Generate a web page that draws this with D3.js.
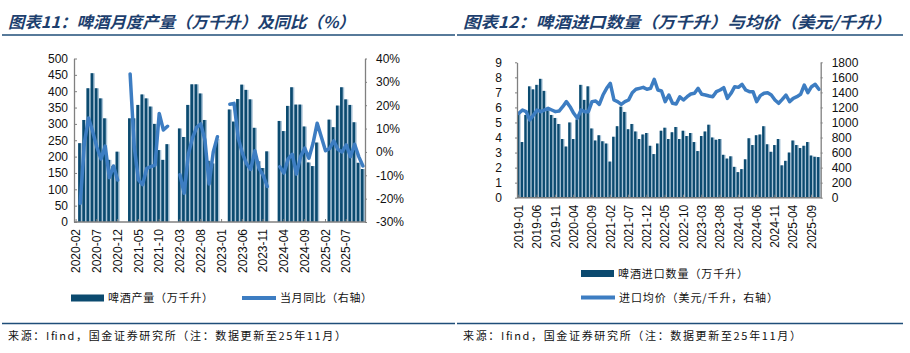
<!DOCTYPE html>
<html>
<head>
<meta charset="utf-8">
<script src="https://cdn.jsdelivr.net/npm/d3@7"></script>
<style>
body { margin: 0; background: #fff; }
</style>
</head>
<body>
<svg width="910" height="353"></svg>
<script>
// ---- data ----
function monthList(y0, m0, y1, m1) {
	var out = [];
	for (var y = y0, m = m0; y < y1 || (y == y1 && m <= m1); ) {
		out.push(y + "-" + (m < 10 ? "0" + m : m));
		m++;
		if (m > 12) { m = 1; y++; }
	}
	return out;
}

// 图表11: 2020-02 .. 2025-11
var prodMonths = monthList(2020, 2, 2025, 11);
var prodTicks = ["2020-02", "2020-07", "2020-12", "2021-05", "2021-10", "2022-03", "2022-08",
	"2023-01", "2023-06", "2023-11", "2024-04", "2024-09", "2025-02", "2025-07"];
var prodOutput = [
	null, 241, 312, 409, 455, 409, 378, 317, 190, 171, 215,
	null, null, 317, 317, 358, 390, 378, 353, 300, 220, 190, 238,
	null, null, 286, 260, 358, 421, 421, 393, 312, 187, 179, 254,
	null, null, 344, 307, 376, 420, 404, 375, 288, 186, 165, 216,
	null, null, 309, 278, 355, 412, 359, 359, 292, 182, 171, 243,
	null, null, 313, 290, 356, 412, 375, 358, 305, 181, 162
];
var prodYoy = [
	null, -22, 4, 14.5, 8.7, 2, -3, 2.5, -11, -6, -12,
	null, null, 33.4, 2, -12, -14, -7, -6.3, -5.6, 16.5, 9.4, 11,
	null, null, -9.8, -17.7, -1, 6, 10.5, 12, 5, -13.7, 0, 6.5,
	null, null, 20.4, 20.8, 6, -0.5, -5, -7.5, 0.5, -7, -10, -14.8,
	null, null, -6.3, -9, -3, -1, -9.5, -2, 1.6, -2.7, 3.7, 12.3,
	null, 0.5, 1.5, 4.7, 1, 0, 3, -2, 3.3, -2, -6
];
// months the yoy line is drawn straight across instead of breaking
var yoyBridged = ["2025-01"];

// 图表12: 2019-01 .. 2025-11
var impMonths = monthList(2019, 1, 2025, 11);
var impTicks = ["2019-01", "2019-06", "2019-11", "2020-04", "2020-09", "2021-02", "2021-07",
	"2021-12", "2022-05", "2022-10", "2023-03", "2023-08", "2024-01", "2024-06", "2024-11",
	"2025-04", "2025-09"];
var impVolume = [
	5.6, 3.7, 5.5, 7.4, 7.2, 7.5, 7.9, 7.1, 5.8, 5.5,
	5.3, 4.9, 3.9, 3.4, 5.0, 3.9, 5.2, 7.5, 6.5, 7.4,
	4.6, 3.8, 4.15, 3.75, 3.6, 2.4, 4.05, 4.75, 6.05, 5.7,
	4.55, 4.9, 4.4, 3.9, 4.2, 4.3, 3.45, 2.9, 3.6, 4.45,
	4.65, 3.9, 4.35, 4.7, 3.9, 4.45, 4.1, 4.3, 3.7, 3.1,
	4.1, 4.4, 4.85, 4.0, 3.85, 3.9, 2.85, 2.6, 2.75, 2.05,
	1.7, 1.9, 2.55, 3.95, 3.5, 4.15, 4.2, 4.75, 3.55, 3.05,
	3.5, 3.9, 2.15, 2.45, 3.0, 3.8, 3.5, 3.3, 3.45, 3.7,
	2.8, 2.72, 2.7
];
var impPrice = [
	1122, 1166, 1144, 1033, 1100, 1166, 1144, 1166, 1188, 1166,
	1144, 1152, 1210, 1277, 1210, 1122, 1055, 1166, 1144, 1144,
	1277, 1285, 1241, 1365, 1454, 1520, 1299, 1277, 1241, 1277,
	1299, 1396, 1441, 1454, 1467, 1441, 1454, 1574, 1432, 1419,
	1277, 1365, 1255, 1246, 1340, 1299, 1343, 1379, 1388, 1454,
	1374, 1365, 1352, 1343, 1410, 1432, 1463, 1321, 1388, 1476,
	1467, 1507, 1432, 1410, 1410, 1277, 1357, 1388, 1396, 1365,
	1299, 1255, 1308, 1365, 1277, 1321, 1343, 1374, 1498, 1396,
	1476, 1507, 1441
];

// ---- styles ----
var numFont = "'Liberation Sans', Arial, sans-serif",
	cjkFont = "'Noto Sans CJK SC', sans-serif",
	barDark = "#0b4a6f",
	barLight = "#a9c3d7",
	lineBlue = "#3d7dc2",
	titleBlue = "#1d3f6e",
	axisGrey = "#808080";

var svg = d3.select("svg");

// ---- frame: titles, rules, source ----
function frame(x0, x1, title, titleLen) {
	svg.append("text")
		.attr("x", x0 + 6).attr("y", 28)
		.attr("font-family", cjkFont).attr("font-size", 16)
		.attr("font-weight", "bold").attr("font-style", "italic")
		.attr("fill", titleBlue)
		.attr("textLength", titleLen).attr("lengthAdjust", "spacingAndGlyphs")
		.text(title);
	svg.append("line")
		.attr("x1", x0).attr("x2", x1).attr("y1", 35).attr("y2", 35)
		.attr("stroke", "#1f4e79").attr("stroke-width", 1.3);
	svg.append("line")
		.attr("x1", x0).attr("x2", x1).attr("y1", 323.5).attr("y2", 323.5)
		.attr("stroke", "#1f4e79").attr("stroke-width", 1.3);
	svg.append("text")
		.attr("x", x0 + 6).attr("y", 340)
		.attr("font-family", cjkFont).attr("font-size", 11)
		.attr("fill", "#111")
		.attr("textLength", 338).attr("lengthAdjust", "spacing")
		.text("来源：Ifind，国金证券研究所（注：数据更新至25年11月）");
}
frame(2, 455, "图表11：啤酒月度产量（万千升）及同比（%）", 347);
frame(457, 903, "图表12：啤酒进口数量（万千升）与均价（美元/千升）", 428);

function styleAxis(g) {
	g.select(".domain").attr("stroke", axisGrey).attr("stroke-width", 1.3);
	g.selectAll(".tick line").attr("stroke", axisGrey);
	g.selectAll(".tick text").attr("fill", "#111").attr("font-family", numFont).attr("font-size", 12);
}

function drawBars(x, y, months, vals, darkFrac) {
	var data = months.map(function(m, i) { return { m: m, v: vals[i] }; })
		.filter(function(d) { return d.v != null; });
	var g = svg.append("g");
	g.selectAll(".light").data(data).enter().append("rect")
		.attr("x", function(d) { return x(d.m); })
		.attr("width", x.bandwidth())
		.attr("y", function(d) { return y(d.v); })
		.attr("height", function(d) { return y(0) - y(d.v); })
		.attr("fill", barLight);
	g.selectAll(".dark").data(data).enter().append("rect")
		.attr("x", function(d) { return x(d.m); })
		.attr("width", x.bandwidth() * darkFrac)
		.attr("y", function(d) { return y(d.v); })
		.attr("height", function(d) { return y(0) - y(d.v); })
		.attr("fill", barDark);
}

function drawLine(x, y, months, vals, bridged) {
	var data = months.map(function(m, i) { return { m: m, v: vals[i] }; })
		.filter(function(d) { return !bridged || bridged.indexOf(d.m) < 0; });
	var line = d3.line()
		.defined(function(d) { return d.v != null; })
		.x(function(d) { return x(d.m) + x.bandwidth() / 2; })
		.y(function(d) { return y(d.v); });
	svg.append("path")
		.datum(data)
		.attr("d", line)
		.attr("fill", "none")
		.attr("stroke", lineBlue)
		.attr("stroke-width", 3.5)
		.attr("stroke-linejoin", "round")
		.attr("stroke-linecap", "round");
}

function drawXAxis(x, base, ticks) {
	var g = svg.append("g");
	g.append("line")
		.attr("x1", x.range()[0]).attr("x2", x.range()[1])
		.attr("y1", base).attr("y2", base)
		.attr("stroke", axisGrey).attr("stroke-width", 1.5);
	g.selectAll(".tk").data(ticks).enter().append("line")
		.attr("x1", function(d) { return x(d) + x.bandwidth() / 2; })
		.attr("x2", function(d) { return x(d) + x.bandwidth() / 2; })
		.attr("y1", base).attr("y2", base - 3)
		.attr("stroke", axisGrey);
	g.selectAll("text").data(ticks).enter().append("text")
		.attr("transform", function(d) {
			return "translate(" + (x(d) + x.bandwidth() / 2) + "," + (base + 7) + ") rotate(-90)";
		})
		.attr("text-anchor", "end")
		.attr("dy", "0.35em")
		.attr("font-family", numFont).attr("font-size", 12).attr("fill", "#111")
		.text(function(d) { return d; });
}

function legendBar(x, y, label, len) {
	svg.append("rect").attr("x", x).attr("y", y - 3.5).attr("width", 33).attr("height", 7).attr("fill", barDark);
	svg.append("text").attr("x", x + 37).attr("y", y + 4)
		.attr("font-family", cjkFont).attr("font-size", 11).attr("fill", "#111")
		.attr("textLength", len).attr("lengthAdjust", "spacing")
		.text(label);
}
function legendLine(x, y, label, len) {
	svg.append("line").attr("x1", x).attr("x2", x + 34).attr("y1", y).attr("y2", y)
		.attr("stroke", lineBlue).attr("stroke-width", 4);
	svg.append("text").attr("x", x + 38).attr("y", y + 4)
		.attr("font-family", cjkFont).attr("font-size", 11).attr("fill", "#111")
		.attr("textLength", len).attr("lengthAdjust", "spacing")
		.text(label);
}

// ---- chart 11 ----
var x1 = d3.scaleBand().domain(prodMonths).range([74, 365]).padding(0);
var y1 = d3.scaleLinear().domain([0, 500]).range([222, 58.5]);
var y1r = d3.scaleLinear().domain([-30, 40]).range([222, 58.5]);

drawBars(x1, y1, prodMonths, prodOutput, 0.64);
drawLine(x1, y1r, prodMonths, prodYoy, yoyBridged);

svg.append("g").attr("transform", "translate(74,0)")
	.call(d3.axisLeft(y1).tickValues(d3.range(0, 501, 50)).tickSizeInner(-3).tickSizeOuter(0).tickPadding(6))
	.call(styleAxis);
svg.append("g").attr("transform", "translate(365,0)")
	.call(d3.axisRight(y1r).tickValues(d3.range(-30, 41, 10)).tickSizeInner(2).tickSizeOuter(0).tickPadding(9)
		.tickFormat(function(d) { return d + "%"; }))
	.call(styleAxis);
drawXAxis(x1, 222, prodTicks);

legendBar(71, 298, "啤酒产量（万千升）", 105);
legendLine(242, 298, "当月同比（右轴）", 92);

// ---- chart 12 ----
var x2 = d3.scaleBand().domain(impMonths).range([517, 820.7]).padding(0);
var y2 = d3.scaleLinear().domain([0, 9]).range([197.7, 62.3]);
var y2r = d3.scaleLinear().domain([0, 1800]).range([197.7, 62.3]);

drawBars(x2, y2, impMonths, impVolume, 0.64);
drawLine(x2, y2r, impMonths, impPrice);

svg.append("g").attr("transform", "translate(517,0)")
	.call(d3.axisLeft(y2).tickValues(d3.range(0, 10, 1)).tickSizeInner(2).tickSizeOuter(0).tickPadding(13))
	.call(styleAxis);
svg.append("g").attr("transform", "translate(820.7,0)")
	.call(d3.axisRight(y2r).tickValues(d3.range(0, 1801, 200)).tickSizeInner(2).tickSizeOuter(0).tickPadding(9)
		.tickFormat(d3.format("d")))
	.call(styleAxis);
drawXAxis(x2, 197.7, impTicks);

legendBar(581, 273.5, "啤酒进口数量（万千升）", 130);
legendLine(581, 297.5, "进口均价（美元/千升，右轴）", 159);
</script>
</body>
</html>
